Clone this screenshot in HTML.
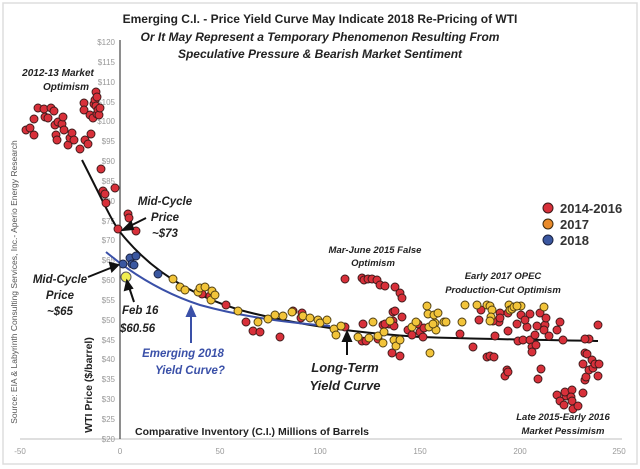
<!DOCTYPE html>
<html><head><meta charset="utf-8"><style>
html,body{margin:0;padding:0;background:#fff;}
svg{display:block;font-family:"Liberation Sans",sans-serif;}
.r circle{fill:#d8303a;stroke:#3a1a1a;stroke-width:0.9}
.y circle{fill:#f2c43a;stroke:#4a3a10;stroke-width:0.9}
.b circle{fill:#3a57a0;stroke:#1a2240;stroke-width:0.9}
.t{fill:#999;font-size:8px;}
.a{font-style:italic;font-weight:bold;fill:#222;}
</style></head><body>
<svg width="640" height="469" viewBox="0 0 640 469" xmlns="http://www.w3.org/2000/svg">
<rect x="3" y="3" width="634" height="461" fill="#fff" stroke="#ddd" stroke-width="1.5"/>
<text x="320" y="23" text-anchor="middle" font-size="12" font-weight="bold" fill="#222">Emerging C.I. - Price Yield Curve May Indicate 2018 Re-Pricing of WTI</text>
<text x="320" y="41" text-anchor="middle" font-size="12" font-weight="bold" font-style="italic" fill="#222">Or It May Represent a Temporary Phenomenon Resulting From</text>
<text x="320" y="58" text-anchor="middle" font-size="12" font-weight="bold" font-style="italic" fill="#222">Speculative Pressure &amp; Bearish Market Sentiment</text>
<line x1="20" y1="439" x2="622" y2="439" stroke="#ccc" stroke-width="1.2"/>
<line x1="120" y1="40" x2="120" y2="439" stroke="#444" stroke-width="1.2"/>
<g class="t" text-anchor="end">
<text x="115" y="45">$120</text><text x="115" y="65">$115</text><text x="115" y="85">$110</text><text x="115" y="105">$105</text><text x="115" y="124">$100</text><text x="115" y="144">$95</text><text x="115" y="164">$90</text><text x="115" y="184">$85</text><text x="115" y="204">$80</text><text x="115" y="224">$75</text><text x="115" y="243">$70</text><text x="115" y="263">$65</text><text x="115" y="283">$60</text><text x="115" y="303">$55</text><text x="115" y="323">$50</text><text x="115" y="343">$45</text><text x="115" y="362">$40</text><text x="115" y="382">$35</text><text x="115" y="402">$30</text><text x="115" y="422">$25</text><text x="115" y="442">$20</text>
</g>
<g class="t" text-anchor="middle" font-size="9">
<text x="20" y="454">-50</text><text x="120" y="454">0</text><text x="220" y="454">50</text><text x="320" y="454">100</text><text x="420" y="454">150</text><text x="520" y="454">200</text><text x="619" y="454">250</text>
</g>
<text transform="translate(17,282) rotate(-90)" text-anchor="middle" font-size="8.5" fill="#555">Source:  EIA &amp; Labyrinth Consulting Services, Inc.- Aperio Energy Research</text>
<text transform="translate(92,385) rotate(-90)" text-anchor="middle" font-size="10.5" font-weight="bold" fill="#222">WTI Price ($/barrel)</text>
<text x="135" y="435" font-size="10.5" font-weight="bold" fill="#222">Comparative Inventory (C.I.) Millions of Barrels</text>
<path fill="none" stroke="#111" stroke-width="2" d="M82,160 C100,195 112,222 120,232 C150,270 190,295 240,310 C300,326 360,333 420,337 C480,339 540,340 598,341"/>
<path fill="none" stroke="#3a50a8" stroke-width="2" d="M106,252 C130,272 160,292 200,305 C240,316 280,322 330,326"/>
<g class="r">
<circle r="4" cx="26" cy="130"/><circle r="4" cx="30" cy="128"/><circle r="4" cx="34" cy="119"/><circle r="4" cx="34" cy="135"/><circle r="4" cx="38" cy="108"/><circle r="4" cx="44" cy="109"/><circle r="4" cx="45" cy="117"/><circle r="4" cx="48" cy="118"/><circle r="4" cx="51" cy="108"/><circle r="4" cx="54" cy="111"/><circle r="4" cx="55" cy="125"/><circle r="4" cx="56" cy="135"/><circle r="4" cx="57" cy="140"/><circle r="4" cx="58" cy="122"/><circle r="4" cx="62" cy="124"/><circle r="4" cx="63" cy="117"/><circle r="4" cx="64" cy="130"/><circle r="4" cx="68" cy="145"/><circle r="4" cx="70" cy="138"/><circle r="4" cx="72" cy="133"/><circle r="4" cx="74" cy="140"/><circle r="4" cx="80" cy="149"/><circle r="4" cx="84" cy="103"/><circle r="4" cx="84" cy="110"/><circle r="4" cx="85" cy="140"/><circle r="4" cx="88" cy="144"/><circle r="4" cx="91" cy="134"/><circle r="4" cx="90" cy="115"/><circle r="4" cx="93" cy="118"/><circle r="4" cx="94" cy="104"/><circle r="4" cx="95" cy="100"/><circle r="4" cx="96" cy="106"/><circle r="4" cx="97" cy="114"/><circle r="4" cx="96" cy="92"/><circle r="4" cx="97" cy="97"/><circle r="4" cx="98" cy="110"/><circle r="4" cx="99" cy="115"/><circle r="4" cx="100" cy="108"/><circle r="4" cx="101" cy="169"/><circle r="4" cx="103" cy="191"/><circle r="4" cx="105" cy="194"/><circle r="4" cx="106" cy="203"/><circle r="4" cx="115" cy="188"/><circle r="4" cx="118" cy="229"/><circle r="4" cx="128" cy="214"/><circle r="4" cx="129" cy="218"/><circle r="4" cx="136" cy="231"/><circle r="4" cx="202" cy="294"/><circle r="4" cx="210" cy="296"/><circle r="4" cx="226" cy="305"/><circle r="4" cx="246" cy="322"/><circle r="4" cx="253" cy="331"/><circle r="4" cx="260" cy="332"/><circle r="4" cx="280" cy="337"/><circle r="4" cx="302" cy="313"/><circle r="4" cx="293" cy="311"/><circle r="4" cx="301" cy="318"/>
<circle r="4" cx="345" cy="279"/><circle r="4" cx="362" cy="278"/><circle r="4" cx="364" cy="280"/><circle r="4" cx="368" cy="279"/><circle r="4" cx="372" cy="279"/><circle r="4" cx="377" cy="280"/><circle r="4" cx="380" cy="285"/><circle r="4" cx="385" cy="286"/><circle r="4" cx="395" cy="287"/><circle r="4" cx="400" cy="293"/><circle r="4" cx="402" cy="298"/><circle r="4" cx="393" cy="312"/><circle r="4" cx="395" cy="311"/><circle r="4" cx="389" cy="324"/><circle r="4" cx="393" cy="321"/><circle r="4" cx="402" cy="317"/><circle r="4" cx="383" cy="325"/><circle r="4" cx="394" cy="326"/><circle r="4" cx="396" cy="342"/><circle r="4" cx="392" cy="353"/><circle r="4" cx="400" cy="356"/><circle r="4" cx="385" cy="324"/><circle r="4" cx="408" cy="330"/><circle r="4" cx="412" cy="335"/><circle r="4" cx="418" cy="324"/><circle r="4" cx="420" cy="332"/><circle r="4" cx="424" cy="328"/><circle r="4" cx="423" cy="337"/><circle r="4" cx="345" cy="327"/><circle r="4" cx="363" cy="324"/><circle r="4" cx="362" cy="341"/><circle r="4" cx="366" cy="341"/><circle r="4" cx="378" cy="339"/>
<circle r="4" cx="460" cy="334"/><circle r="4" cx="473" cy="347"/><circle r="4" cx="481" cy="310"/><circle r="4" cx="487" cy="357"/><circle r="4" cx="490" cy="356"/><circle r="4" cx="494" cy="357"/><circle r="4" cx="495" cy="336"/><circle r="4" cx="499" cy="322"/><circle r="4" cx="493" cy="321"/><circle r="4" cx="479" cy="320"/><circle r="4" cx="500" cy="313"/><circle r="4" cx="507" cy="370"/><circle r="4" cx="505" cy="376"/><circle r="4" cx="508" cy="372"/><circle r="4" cx="508" cy="313"/><circle r="4" cx="500" cy="318"/><circle r="4" cx="508" cy="331"/><circle r="4" cx="530" cy="314"/><circle r="4" cx="521" cy="315"/><circle r="4" cx="517" cy="324"/><circle r="4" cx="518" cy="341"/><circle r="4" cx="523" cy="340"/><circle r="4" cx="527" cy="327"/><circle r="4" cx="525" cy="320"/><circle r="4" cx="530" cy="340"/><circle r="4" cx="535" cy="335"/><circle r="4" cx="532" cy="347"/><circle r="4" cx="532" cy="352"/><circle r="4" cx="536" cy="345"/><circle r="4" cx="537" cy="326"/><circle r="4" cx="540" cy="313"/><circle r="4" cx="545" cy="325"/><circle r="4" cx="546" cy="318"/><circle r="4" cx="544" cy="330"/><circle r="4" cx="541" cy="369"/><circle r="4" cx="538" cy="379"/><circle r="4" cx="549" cy="336"/><circle r="4" cx="557" cy="330"/><circle r="4" cx="560" cy="322"/><circle r="4" cx="563" cy="340"/><circle r="4" cx="557" cy="395"/><circle r="4" cx="566" cy="396"/><circle r="4" cx="560" cy="401"/><circle r="4" cx="565" cy="392"/><circle r="4" cx="572" cy="390"/><circle r="4" cx="564" cy="405"/><circle r="4" cx="573" cy="409"/><circle r="4" cx="571" cy="397"/><circle r="4" cx="572" cy="401"/><circle r="4" cx="578" cy="406"/><circle r="4" cx="589" cy="339"/><circle r="4" cx="585" cy="339"/><circle r="4" cx="585" cy="353"/><circle r="4" cx="587" cy="354"/><circle r="4" cx="585" cy="380"/><circle r="4" cx="583" cy="393"/><circle r="4" cx="586" cy="377"/><circle r="4" cx="583" cy="364"/><circle r="4" cx="589" cy="370"/><circle r="4" cx="593" cy="368"/><circle r="4" cx="592" cy="360"/><circle r="4" cx="595" cy="364"/><circle r="4" cx="599" cy="364"/><circle r="4" cx="598" cy="376"/><circle r="4" cx="598" cy="325"/>
</g>
<g class="y">
<circle r="4" cx="173" cy="279"/><circle r="4" cx="180" cy="287"/><circle r="4" cx="185" cy="290"/><circle r="4" cx="198" cy="292"/><circle r="4" cx="200" cy="288"/><circle r="4" cx="205" cy="287"/><circle r="4" cx="211" cy="300"/><circle r="4" cx="212" cy="291"/><circle r="4" cx="215" cy="295"/><circle r="4" cx="238" cy="311"/><circle r="4" cx="275" cy="315"/><circle r="4" cx="283" cy="316"/><circle r="4" cx="292" cy="312"/><circle r="4" cx="303" cy="316"/><circle r="4" cx="310" cy="318"/><circle r="4" cx="318" cy="320"/><circle r="4" cx="268" cy="319"/><circle r="4" cx="258" cy="322"/><circle r="4" cx="320" cy="323"/><circle r="4" cx="327" cy="320"/><circle r="4" cx="334" cy="329"/><circle r="4" cx="341" cy="326"/><circle r="4" cx="336" cy="335"/><circle r="4" cx="358" cy="337"/><circle r="4" cx="369" cy="338"/><circle r="4" cx="373" cy="322"/><circle r="4" cx="378" cy="336"/><circle r="4" cx="383" cy="343"/><circle r="4" cx="384" cy="332"/><circle r="4" cx="390" cy="321"/><circle r="4" cx="394" cy="340"/><circle r="4" cx="396" cy="346"/><circle r="4" cx="400" cy="340"/><circle r="4" cx="427" cy="306"/><circle r="4" cx="428" cy="314"/><circle r="4" cx="429" cy="327"/><circle r="4" cx="435" cy="323"/><circle r="4" cx="436" cy="330"/><circle r="4" cx="433" cy="324"/><circle r="4" cx="434" cy="315"/><circle r="4" cx="438" cy="313"/><circle r="4" cx="444" cy="322"/><circle r="4" cx="446" cy="322"/><circle r="4" cx="462" cy="322"/><circle r="4" cx="465" cy="305"/><circle r="4" cx="487" cy="305"/><circle r="4" cx="490" cy="306"/><circle r="4" cx="492" cy="310"/><circle r="4" cx="491" cy="317"/><circle r="4" cx="490" cy="321"/><circle r="4" cx="477" cy="305"/><circle r="4" cx="509" cy="305"/><circle r="4" cx="510" cy="310"/><circle r="4" cx="512" cy="309"/><circle r="4" cx="514" cy="307"/><circle r="4" cx="521" cy="306"/><circle r="4" cx="517" cy="306"/><circle r="4" cx="544" cy="307"/><circle r="4" cx="430" cy="353"/><circle r="4" cx="412" cy="327"/><circle r="4" cx="416" cy="322"/>
</g>
<g class="b">
<circle r="4" cx="123" cy="264"/><circle r="4" cx="130" cy="258"/><circle r="4" cx="132" cy="264"/><circle r="4" cx="134" cy="265"/><circle r="4" cx="136" cy="256"/><circle r="4" cx="158" cy="274"/>
</g>
<circle r="5" cx="126" cy="277" fill="#f0ee50" stroke="#556" stroke-width="1"/>
<g class="a" font-size="10">
<text x="58" y="76" text-anchor="middle">2012-13 Market</text>
<text x="66" y="90" text-anchor="middle">Optimism</text>
</g>
<g class="a" font-size="11.5">
<text x="165" y="205" text-anchor="middle">Mid-Cycle</text>
<text x="165" y="221" text-anchor="middle">Price</text>
<text x="165" y="237" text-anchor="middle">~$73</text>
<text x="60" y="283" text-anchor="middle">Mid-Cycle</text>
<text x="60" y="299" text-anchor="middle">Price</text>
<text x="60" y="315" text-anchor="middle">~$65</text>
<text x="122" y="314">Feb 16</text>
<text x="120" y="332">$60.56</text>
<text x="183" y="357" text-anchor="middle" fill="#3a50a8">Emerging 2018</text>
<text x="190" y="374" text-anchor="middle" fill="#3a50a8">Yield Curve?</text>
<text x="345" y="372" text-anchor="middle" font-size="13">Long-Term</text>
<text x="345" y="390" text-anchor="middle" font-size="13">Yield Curve</text>
</g>
<g class="a" font-size="9.5" text-anchor="middle">
<text x="375" y="253">Mar-June 2015 False</text>
<text x="373" y="266">Optimism</text>
<text x="503" y="279">Early 2017 OPEC</text>
<text x="503" y="293">Production-Cut Optimism</text>
<text x="563" y="420">Late 2015-Early 2016</text>
<text x="563" y="434">Market Pessimism</text>
</g>
<g stroke="#111" stroke-width="2" fill="#111">
<line x1="146" y1="218" x2="128" y2="227"/><polygon points="123,230 131,222 133,229"/>
<line x1="88" y1="277" x2="113" y2="267"/><polygon points="118,265 110,263 112,271"/>
<line x1="134" y1="302" x2="129" y2="287"/><polygon points="127,281 125,290 132,288"/>
<line x1="347" y1="355" x2="347" y2="338"/><polygon points="347,332 343,341 351,341"/>
</g>
<g stroke="#3a50a8" stroke-width="2" fill="#3a50a8">
<line x1="191" y1="343" x2="191" y2="314"/><polygon points="191,307 187,316 195,316"/>
</g>
<g font-size="13" font-weight="bold" fill="#333">
<circle cx="548" cy="208" r="5" fill="#d8303a" stroke="#3a1a1a"/><text x="560" y="213">2014-2016</text>
<circle cx="548" cy="224" r="5" fill="#e98a2a" stroke="#3a2a10"/><text x="560" y="229">2017</text>
<circle cx="548" cy="240" r="5" fill="#3a57a0" stroke="#1a2240"/><text x="560" y="245">2018</text>
</g>
</svg>
</body></html>
